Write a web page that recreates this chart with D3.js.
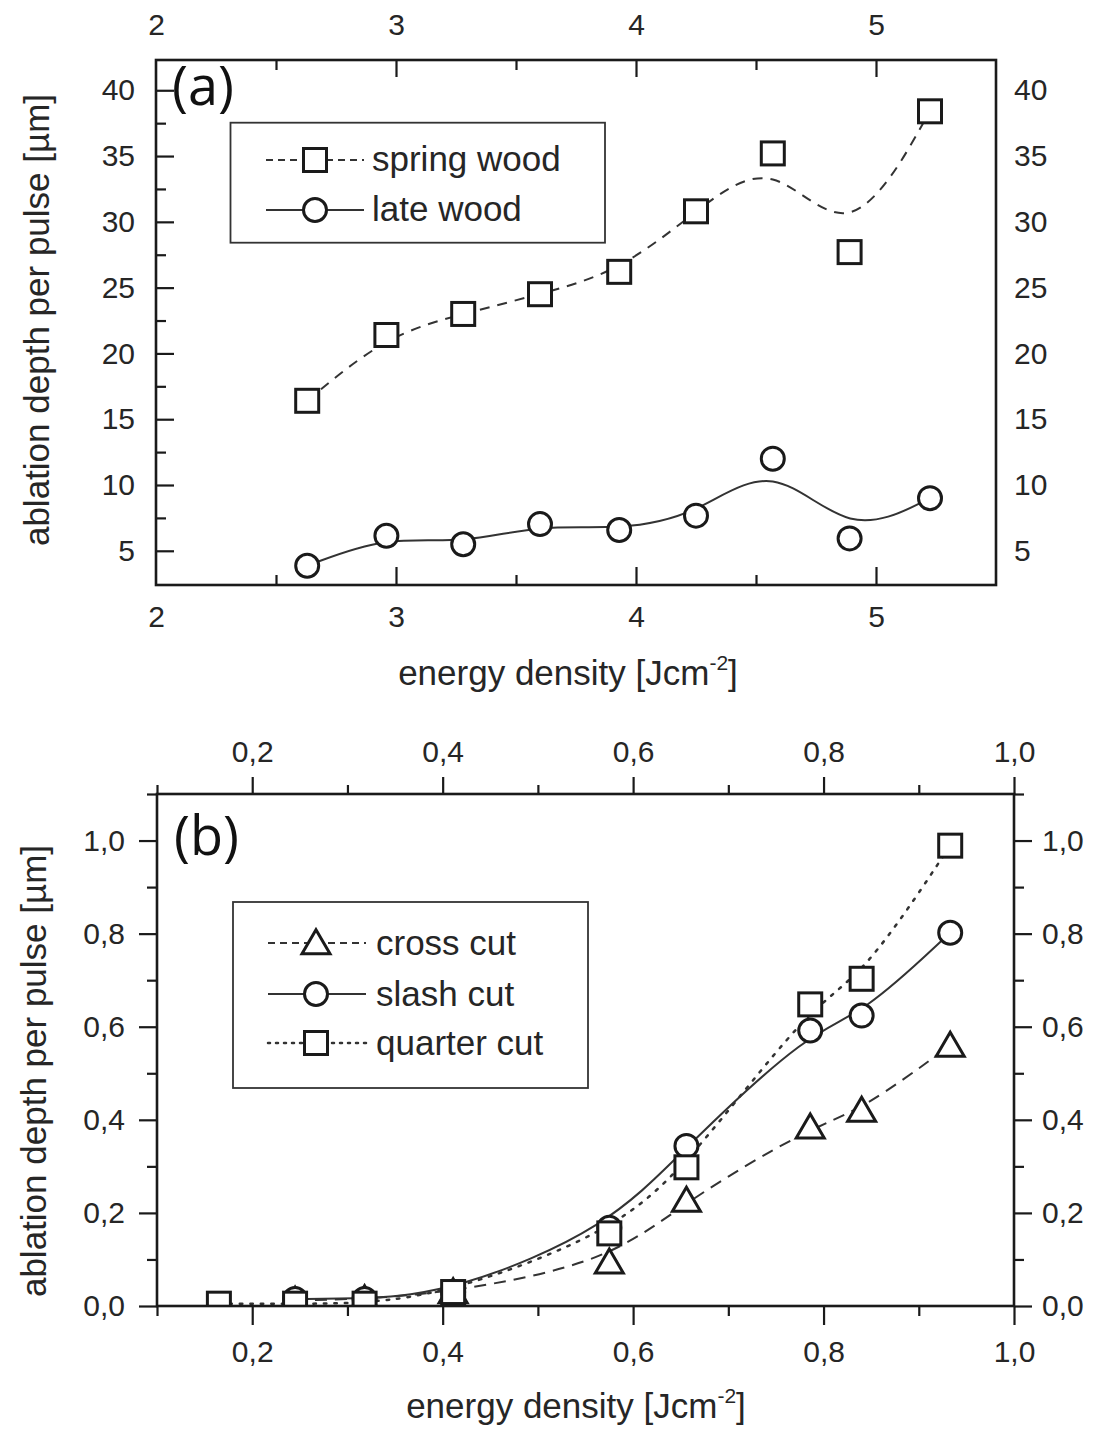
<!DOCTYPE html>
<html>
<head>
<meta charset="utf-8">
<script src="https://cdn.jsdelivr.net/npm/d3@7"></script>
<style>
  html, body { margin: 0; padding: 0; background: #fff; }
  svg { display: block; }
</style>
</head>
<body>
<svg id="chart" width="1095" height="1430"></svg>
<script>
// ---------- Data: panel (a) ----------
const energyA = [2.63, 2.96, 3.28, 3.60, 3.93, 4.25, 4.57, 4.89, 5.225];
const springWood = [16.4, 21.4, 23.0, 24.5, 26.2, 30.8, 35.2, 27.7, 38.4];
const lateWood = [3.86, 6.14, 5.5, 7.03, 6.58, 7.67, 12.0, 5.94, 9.0];
const yTicksA = [5, 10, 15, 20, 25, 30, 35, 40];
const yMinorA = [7.5, 12.5, 17.5, 22.5, 27.5, 32.5, 37.5];
const xTicksA = [2, 3, 4, 5];
const xMinorA = [2.5, 3.5, 4.5];
const legendA = ["spring wood", "late wood"];

// ---------- Data: panel (b) ----------
const energyQuarter = [0.165, 0.245, 0.318, 0.411, 0.575, 0.656, 0.786, 0.84, 0.933];
const quarterCut = [0.005, 0.005, 0.005, 0.03, 0.156, 0.298, 0.648, 0.703, 0.989];
const energyB = [0.245, 0.318, 0.411, 0.575, 0.656, 0.786, 0.84, 0.933];
const slashCut = [0.015, 0.015, 0.03, 0.168, 0.344, 0.592, 0.624, 0.802];
const crossCut = [0.012, 0.015, 0.03, 0.094, 0.227, 0.384, 0.42, 0.56];
const xTicksB = [0.2, 0.4, 0.6, 0.8, 1.0];
const xMinorB = [0.1, 0.3, 0.5, 0.7, 0.9];
const yTicksB = [0.0, 0.2, 0.4, 0.6, 0.8, 1.0];
const yMinorB = [0.1, 0.3, 0.5, 0.7, 0.9, 1.1];
const legendB = ["cross cut", "slash cut", "quarter cut"];

const yTitle = "ablation depth per pulse [µm]";

const svg = d3.select("#chart");
const INK = "#1a1a1a";
const TXT = "#262626";
const FONT = "'Liberation Sans', Arial, Helvetica, sans-serif";
const commaFmt = v => d3.format(".1f")(v).replace(".", ",");
const intFmt = d3.format("d");

function styleAxis(g, size) {
  g.select(".domain").remove();
  g.selectAll("line").attr("stroke", INK).attr("stroke-width", 2.2);
  g.selectAll("text").attr("fill", TXT).attr("font-size", size).attr("font-family", FONT);
  g.attr("font-family", FONT).attr("font-size", size);
}

// marker helpers
function square(g, cx, cy, s) {
  g.append("rect").attr("x", cx - s/2).attr("y", cy - s/2).attr("width", s).attr("height", s)
    .attr("fill", "#fff").attr("stroke", INK).attr("stroke-width", 3);
}
function circle(g, cx, cy, r) {
  g.append("circle").attr("cx", cx).attr("cy", cy).attr("r", r)
    .attr("fill", "#fff").attr("stroke", INK).attr("stroke-width", 3);
}
function triangle(g, cx, cy, w, h) {
  const p = [[cx, cy - h*0.55], [cx + w/2, cy + h*0.45], [cx - w/2, cy + h*0.45]];
  g.append("path").attr("d", "M" + p.map(d => d.join(",")).join("L") + "Z")
    .attr("fill", "#fff").attr("stroke", INK).attr("stroke-width", 3).attr("stroke-linejoin", "miter");
}

// =================== Panel (a) ===================
const xA = d3.scaleLinear().domain([2, 5.5]).range([156, 996]);
const yA = d3.scaleLinear().domain([2.4, 42.3]).range([585, 60]);
const gA = svg.append("g");

// ticks (inward)
gA.append("g").attr("transform", `translate(${xA.range()[0]},0)`)
  .call(d3.axisRight(yA).tickValues(yTicksA).tickSize(18).tickFormat(""))
  .call(g => styleAxis(g, 30));
gA.append("g").attr("transform", `translate(${xA.range()[0]},0)`)
  .call(d3.axisRight(yA).tickValues(yMinorA).tickSize(10).tickFormat(""))
  .call(g => styleAxis(g, 30));
gA.append("g").attr("transform", `translate(0,${yA.range()[1]})`)
  .call(d3.axisBottom(xA).tickValues(xTicksA.slice(1)).tickSize(17).tickFormat(""))
  .call(g => styleAxis(g, 30));
gA.append("g").attr("transform", `translate(0,${yA.range()[1]})`)
  .call(d3.axisBottom(xA).tickValues(xMinorA).tickSize(10).tickFormat(""))
  .call(g => styleAxis(g, 30));
gA.append("g").attr("transform", `translate(0,${yA.range()[0]})`)
  .call(d3.axisTop(xA).tickValues(xTicksA.slice(1)).tickSize(18).tickFormat(""))
  .call(g => styleAxis(g, 30));
gA.append("g").attr("transform", `translate(0,${yA.range()[0]})`)
  .call(d3.axisTop(xA).tickValues(xMinorA).tickSize(10).tickFormat(""))
  .call(g => styleAxis(g, 30));

// labels
gA.append("g").attr("transform", `translate(${xA.range()[0]},0)`)
  .call(d3.axisLeft(yA).tickValues(yTicksA).tickSize(0).tickPadding(21).tickFormat(intFmt))
  .call(g => styleAxis(g, 30));
gA.append("g").attr("transform", `translate(${xA.range()[1]},0)`)
  .call(d3.axisRight(yA).tickValues(yTicksA).tickSize(0).tickPadding(18).tickFormat(intFmt))
  .call(g => styleAxis(g, 30));
gA.append("g").attr("transform", `translate(0,${yA.range()[1]})`)
  .call(d3.axisTop(xA).tickValues(xTicksA).tickSize(0).tickPadding(25).tickFormat(intFmt))
  .call(g => styleAxis(g, 30));
gA.append("g").attr("transform", `translate(0,${yA.range()[0]})`)
  .call(d3.axisBottom(xA).tickValues(xTicksA).tickSize(0).tickPadding(21).tickFormat(intFmt))
  .call(g => styleAxis(g, 30));

// frame
gA.append("rect").attr("x", xA.range()[0]).attr("y", yA.range()[1])
  .attr("width", xA.range()[1] - xA.range()[0]).attr("height", yA.range()[0] - yA.range()[1])
  .attr("fill", "none").attr("stroke", INK).attr("stroke-width", 2.6);

// curves
const lineA = d3.line().x(d => xA(d[0])).y(d => yA(d[1])).curve(d3.curveBasis);
gA.append("path").datum(energyA.map((x, i) => [x, springWood[i]])).attr("d", lineA)
  .attr("fill", "none").attr("stroke", "#333").attr("stroke-width", 2).attr("stroke-dasharray", "10,8");
gA.append("path").datum(energyA.map((x, i) => [x, lateWood[i]])).attr("d", lineA)
  .attr("fill", "none").attr("stroke", "#333").attr("stroke-width", 2);

energyA.forEach((x, i) => square(gA, xA(x), yA(springWood[i]), 23));
energyA.forEach((x, i) => circle(gA, xA(x), yA(lateWood[i]), 11.5));

// legend a
gA.append("rect").attr("x", 230.5).attr("y", 122.7).attr("width", 374.5).attr("height", 120)
  .attr("fill", "#fff").attr("stroke", "#333").attr("stroke-width", 1.8);
const legAy = [160, 210];
gA.append("line").attr("x1", 266).attr("x2", 364).attr("y1", legAy[0]).attr("y2", legAy[0])
  .attr("stroke", "#333").attr("stroke-width", 2).attr("stroke-dasharray", "7,5");
square(gA, 315, legAy[0], 23);
gA.append("line").attr("x1", 266).attr("x2", 364).attr("y1", legAy[1]).attr("y2", legAy[1])
  .attr("stroke", "#333").attr("stroke-width", 2);
circle(gA, 315, legAy[1], 11.5);
legendA.forEach((t, i) => gA.append("text").attr("x", 372).attr("y", legAy[i] + 11)
  .attr("font-family", FONT).attr("font-size", 35).attr("fill", TXT).text(t));

// titles a
gA.append("text").attr("transform", "translate(49,320) rotate(-90)").attr("text-anchor", "middle")
  .attr("font-family", FONT).attr("font-size", 35).attr("fill", TXT).text(yTitle);
function xTitle(g, x, y) {
  const t = g.append("text").attr("x", x).attr("y", y).attr("text-anchor", "middle")
    .attr("font-family", FONT).attr("font-size", 35).attr("fill", TXT);
  t.append("tspan").text("energy density [Jcm");
  t.append("tspan").attr("dy", -15).attr("font-size", 21).text("-2");
  t.append("tspan").attr("dy", 15).text("]");
}
xTitle(gA, 568, 685);
gA.append("text").attr("x", 172).attr("y", 105).attr("font-family", "'Open Sans', sans-serif")
  .attr("font-size", 54).attr("fill", "#111").text("(a)");

// =================== Panel (b) ===================
const xB = d3.scaleLinear().domain([0.1, 1.0]).range([157, 1014]);
const yB = d3.scaleLinear().domain([0, 1.1]).range([1306, 794]);
const gB = svg.append("g");

// outward ticks with labels
gB.append("g").attr("transform", `translate(${xB.range()[0]},0)`)
  .call(d3.axisLeft(yB).tickValues(yTicksB).tickSize(18).tickPadding(14).tickFormat(commaFmt))
  .call(g => styleAxis(g, 30));
gB.append("g").attr("transform", `translate(${xB.range()[0]},0)`)
  .call(d3.axisLeft(yB).tickValues(yMinorB).tickSize(10).tickFormat(""))
  .call(g => styleAxis(g, 30));
gB.append("g").attr("transform", `translate(${xB.range()[1]},0)`)
  .call(d3.axisRight(yB).tickValues(yTicksB).tickSize(18).tickPadding(10).tickFormat(commaFmt))
  .call(g => styleAxis(g, 30));
gB.append("g").attr("transform", `translate(${xB.range()[1]},0)`)
  .call(d3.axisRight(yB).tickValues(yMinorB).tickSize(10).tickFormat(""))
  .call(g => styleAxis(g, 30));
gB.append("g").attr("transform", `translate(0,${yB.range()[1]})`)
  .call(d3.axisTop(xB).tickValues(xTicksB).tickSize(17).tickPadding(15).tickFormat(commaFmt))
  .call(g => styleAxis(g, 30));
gB.append("g").attr("transform", `translate(0,${yB.range()[1]})`)
  .call(d3.axisTop(xB).tickValues(xMinorB).tickSize(9).tickFormat(""))
  .call(g => styleAxis(g, 30));
gB.append("g").attr("transform", `translate(0,${yB.range()[0]})`)
  .call(d3.axisBottom(xB).tickValues(xTicksB).tickSize(19).tickPadding(16).tickFormat(commaFmt))
  .call(g => styleAxis(g, 30));
gB.append("g").attr("transform", `translate(0,${yB.range()[0]})`)
  .call(d3.axisBottom(xB).tickValues(xMinorB).tickSize(10).tickFormat(""))
  .call(g => styleAxis(g, 30));

// clip
svg.append("defs").append("clipPath").attr("id", "clipB").append("rect")
  .attr("x", xB.range()[0]).attr("y", yB.range()[1])
  .attr("width", xB.range()[1] - xB.range()[0]).attr("height", yB.range()[0] - yB.range()[1]);
const plotB = gB.append("g").attr("clip-path", "url(#clipB)");

const lineB = d3.line().x(d => xB(d[0])).y(d => yB(d[1])).curve(d3.curveBasis);
plotB.append("path").datum(energyB.map((x, i) => [x, crossCut[i]])).attr("d", lineB)
  .attr("fill", "none").attr("stroke", "#333").attr("stroke-width", 2).attr("stroke-dasharray", "12,8");
plotB.append("path").datum(energyB.map((x, i) => [x, slashCut[i]])).attr("d", lineB)
  .attr("fill", "none").attr("stroke", "#333").attr("stroke-width", 2);
plotB.append("path").datum(energyQuarter.map((x, i) => [x, quarterCut[i]])).attr("d", lineB)
  .attr("fill", "none").attr("stroke", "#333").attr("stroke-width", 2.5).attr("stroke-dasharray", "2.5,8")
  .attr("stroke-linecap", "round");

energyB.forEach((x, i) => triangle(plotB, xB(x), yB(crossCut[i]), 28, 24));
energyB.forEach((x, i) => circle(plotB, xB(x), yB(slashCut[i]), 11.5));
energyQuarter.forEach((x, i) => square(plotB, xB(x), yB(quarterCut[i]), 23));

// frame
gB.append("rect").attr("x", xB.range()[0]).attr("y", yB.range()[1])
  .attr("width", xB.range()[1] - xB.range()[0]).attr("height", yB.range()[0] - yB.range()[1])
  .attr("fill", "none").attr("stroke", INK).attr("stroke-width", 2.6);

// legend b
gB.append("rect").attr("x", 233).attr("y", 902).attr("width", 355).attr("height", 186)
  .attr("fill", "#fff").attr("stroke", "#333").attr("stroke-width", 1.8);
const legBy = [943, 994, 1043];
gB.append("line").attr("x1", 268).attr("x2", 366).attr("y1", legBy[0]).attr("y2", legBy[0])
  .attr("stroke", "#333").attr("stroke-width", 2).attr("stroke-dasharray", "7,5");
triangle(gB, 316, legBy[0], 28, 24);
gB.append("line").attr("x1", 268).attr("x2", 366).attr("y1", legBy[1]).attr("y2", legBy[1])
  .attr("stroke", "#333").attr("stroke-width", 2);
circle(gB, 316, legBy[1], 11.5);
gB.append("line").attr("x1", 268).attr("x2", 366).attr("y1", legBy[2]).attr("y2", legBy[2])
  .attr("stroke", "#333").attr("stroke-width", 2.5).attr("stroke-dasharray", "2,6").attr("stroke-linecap", "round");
square(gB, 316, legBy[2], 23);
legendB.forEach((t, i) => gB.append("text").attr("x", 376).attr("y", legBy[i] + 12)
  .attr("font-family", FONT).attr("font-size", 35).attr("fill", TXT).text(t));

gB.append("text").attr("transform", "translate(46,1071) rotate(-90)").attr("text-anchor", "middle")
  .attr("font-family", FONT).attr("font-size", 35).attr("fill", TXT).text(yTitle);
xTitle(gB, 576, 1418);
gB.append("text").attr("x", 174).attr("y", 855).attr("font-family", "'Open Sans', sans-serif")
  .attr("font-size", 54).attr("fill", "#111").text("(b)");
</script>
</body>
</html>
